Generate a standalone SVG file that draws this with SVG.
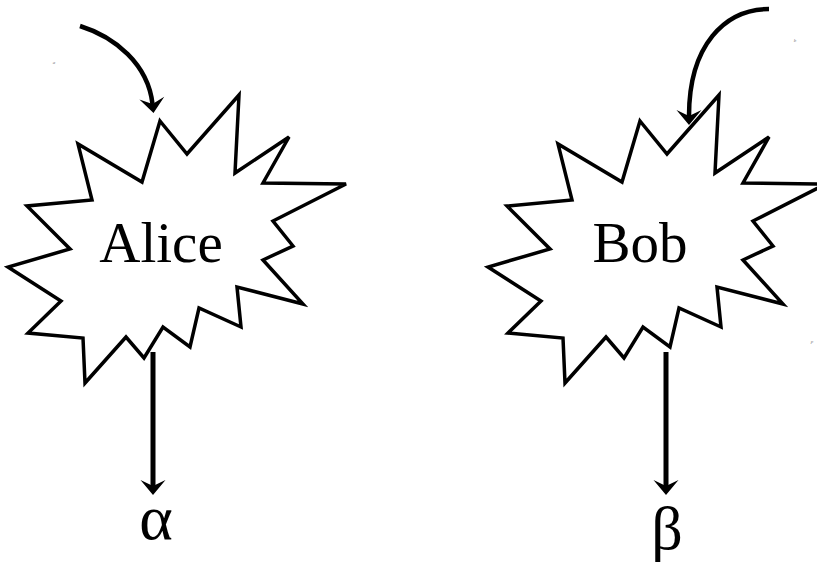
<svg xmlns="http://www.w3.org/2000/svg" width="817" height="564" viewBox="0 0 817 564">
<style>
.star{fill:#fff;stroke:#000;stroke-width:3.5;stroke-linejoin:miter}
.lbl{font-family:"Liberation Serif","Times New Roman",serif;font-size:57px;fill:#000;text-anchor:middle}
.greek{font-family:"Liberation Serif","Times New Roman",serif;font-size:62px;fill:#000;text-anchor:middle}
.tiny{font-family:"Liberation Serif",serif;font-style:italic;font-size:5px;fill:#777;text-anchor:middle}
.conn{fill:none;stroke:#000}
</style>
<defs>
<marker id="ah" markerUnits="userSpaceOnUse" viewBox="-2 -14 20 28" refX="6" refY="0" markerWidth="20" markerHeight="28" orient="auto" overflow="visible">
<path d="M0,-12.5 L6,0 L0,12.5 L15,0 Z" fill="#000"/>
</marker>
</defs>
<g id="alice">
<polygon class="star" points="160,121 187,154 239,95 235,173 289,137 263,183 346,184 273,221 293,246 263,260 303,304 237,287 241,327 199,308 190,347 163,327 144,358 126,337 85,383 83,338 28,333 61,301 8,267 70,249 27,206 92,200 78,144 142,182"/>
<text class="lbl" x="161" y="262">Alice</text>
</g>
<g id="bob">
<polygon class="star" transform="translate(480,0)" points="160,121 187,154 239,95 235,173 289,137 263,183 346,184 273,221 293,246 263,260 303,304 237,287 241,327 199,308 190,347 163,327 144,358 126,337 85,383 83,338 28,333 61,301 8,267 70,249 27,206 92,200 78,144 142,182"/>
<text class="lbl" x="640" y="262">Bob</text>
</g>
<g id="alpha"><text class="greek" x="156" y="539" style="font-size:64px">α</text></g>
<g id="beta"><text class="greek" x="667" y="549">β</text></g>
<g id="tiny-labels">
<text class="tiny" x="54" y="64">a</text>
<text class="tiny" x="795" y="42">b</text>
<text class="tiny" x="812" y="343">p</text>
</g>
<g id="connectors">
<path class="conn" stroke-width="4.5" d="M80,26 C115,37 148,64 152.5,104" marker-end="url(#ah)"/>
<path class="conn" stroke-width="4.5" d="M769,9 C725,9 689,45 689,116" marker-end="url(#ah)"/>
<path class="conn" stroke-width="5" d="M153,352 L153,486" marker-end="url(#ah)"/>
<path class="conn" stroke-width="5" d="M666,352 L666,486" marker-end="url(#ah)"/>
</g>
</svg>
